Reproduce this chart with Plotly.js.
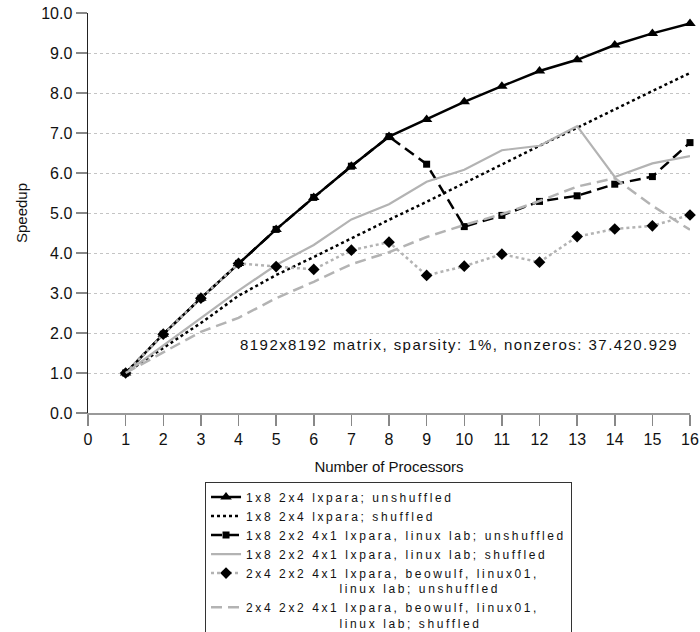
<!DOCTYPE html>
<html>
<head>
<meta charset="utf-8">
<script src="https://cdn.plot.ly/plotly-3.0.1.min.js"></script>
<style>
  html, body { margin: 0; padding: 0; background: #fff; overflow: hidden; width: 700px; height: 632px; }
  #chart { width: 700px; height: 680px; }
  .legendtext { letter-spacing: 2.6px; }
  .annotation-text { letter-spacing: 1.45px; }
</style>
</head>
<body>
<div id="chart"></div>
<script>
// Number of processors
const processors = [1, 2, 3, 4, 5, 6, 7, 8, 9, 10, 11, 12, 13, 14, 15, 16];

// Speedup series
const lxparaUnshuffled   = [1.00, 1.97, 2.87, 3.74, 4.59, 5.39, 6.17, 6.91, 7.34, 7.78, 8.17, 8.55, 8.83, 9.20, 9.49, 9.74];
const lxparaShuffled     = [1.00, 1.62, 2.25, 2.93, 3.45, 3.90, 4.37, 4.83, 5.28, 5.75, 6.22, 6.68, 7.13, 7.60, 8.05, 8.50];
const linuxLabUnshuffled = [1.00, 1.97, 2.87, 3.74, 4.59, 5.39, 6.17, 6.91, 6.22, 4.66, 4.94, 5.29, 5.43, 5.72, 5.91, 6.76];
const linuxLabShuffled   = [1.00, 1.68, 2.37, 3.06, 3.70, 4.20, 4.84, 5.22, 5.78, 6.08, 6.57, 6.68, 7.17, 5.90, 6.24, 6.42];
const beowulfUnshuffled  = [1.00, 1.97, 2.87, 3.74, 3.66, 3.59, 4.07, 4.27, 3.44, 3.67, 3.97, 3.77, 4.41, 4.60, 4.68, 4.95];
const beowulfShuffled    = [1.00, 1.52, 2.03, 2.38, 2.87, 3.28, 3.72, 4.02, 4.40, 4.70, 4.97, 5.30, 5.66, 5.87, 5.18, 4.58];

// Legend labels
const indent = "\u2003\u2003\u2003\u2003\u2003\u2003\u00a0";
const seriesNames = [
  "1x8 2x4 lxpara; unshuffled",
  "1x8 2x4 lxpara; shuffled",
  "1x8 2x2 4x1 lxpara, linux lab; unshuffled",
  "1x8 2x2 4x1 lxpara, linux lab; shuffled",
  "2x4 2x2 4x1 lxpara, beowulf, linux01,<br>" + indent + "linux lab; unshuffled",
  "2x4 2x2 4x1 lxpara, beowulf, linux01,<br>" + indent + "linux lab; shuffled"
];

// Axis ticks
const xTicks = [0,1,2,3,4,5,6,7,8,9,10,11,12,13,14,15,16];
const yTicks = [0,1,2,3,4,5,6,7,8,9,10];
const yTickLabels = ["0.0","1.0","2.0","3.0","4.0","5.0","6.0","7.0","8.0","9.0","10.0"];

const noteText = "8192x8192 matrix, sparsity: 1%, nonzeros: 37.420.929";

const GRAY = "#b3b3b3";
const FONT = "Liberation Sans, Arial, Helvetica, sans-serif";

const traces = [
  { x: processors, y: lxparaUnshuffled, name: seriesNames[0], mode: "lines+markers",
    line: { color: "#000", width: 2.5 },
    marker: { symbol: "triangle-up", size: 10, color: "#000" } },
  { x: processors, y: lxparaShuffled, name: seriesNames[1], mode: "lines",
    line: { color: "#000", width: 2.5, dash: "3px,3px" } },
  { x: processors, y: linuxLabUnshuffled, name: seriesNames[2], mode: "lines+markers",
    line: { color: "#000", width: 2.5, dash: "11px,6px" },
    marker: { symbol: "square", size: 7, color: "#000" } },
  { x: processors, y: linuxLabShuffled, name: seriesNames[3], mode: "lines",
    line: { color: GRAY, width: 2.2 } },
  { x: processors, y: beowulfUnshuffled, name: seriesNames[4], mode: "lines+markers",
    line: { color: GRAY, width: 2.5, dash: "3px,3px" },
    marker: { symbol: "diamond", size: 9, color: "#000" } },
  { x: processors, y: beowulfShuffled, name: seriesNames[5], mode: "lines",
    line: { color: GRAY, width: 2.5, dash: "11px,6px" } }
].map(t => Object.assign(t, { type: "scatter", cliponaxis: false }));

const layout = {
  width: 700, height: 680, autosize: false,
  margin: { l: 88, r: 10, t: 13, b: 267, pad: 0 },
  paper_bgcolor: "#fff", plot_bgcolor: "#fff",
  font: { family: FONT, size: 15, color: "#111" },
  showlegend: true,
  xaxis: {
    range: [0, 16], tickvals: xTicks, ticktext: xTicks.map(String),
    showgrid: false, zeroline: false,
    showline: true, linecolor: "#999", linewidth: 2,
    ticks: "outside", ticklen: 11, tickwidth: 1.5, tickcolor: "#888",
    tickfont: { family: FONT, size: 16, color: "#111" },
    title: { text: "Number of Processors", font: { family: FONT, size: 15, color: "#111" }, standoff: 14 },
    automargin: false, fixedrange: true
  },
  yaxis: {
    range: [0, 10], tickvals: yTicks, ticktext: yTickLabels,
    showgrid: true, gridcolor: "#c4c4c4", gridwidth: 1, griddash: "dot",
    zeroline: false,
    showline: true, linecolor: "#222", linewidth: 1.5,
    ticks: "outside", ticklen: 11, tickwidth: 1.5, tickcolor: "#888",
    tickfont: { family: FONT, size: 16, color: "#111" },
    title: { text: "Speedup", font: { family: FONT, size: 15, color: "#111" }, standoff: 10 },
    automargin: false, fixedrange: true
  },
  legend: {
    x: 0.1944, y: -0.172, xanchor: "left", yanchor: "top",
    bgcolor: "#fff", bordercolor: "#333", borderwidth: 1,
    font: { family: FONT, size: 12, color: "#111" },
    itemwidth: 30, valign: "top", traceorder: "normal"
  },
  annotations: [{
    xref: "x", yref: "y", x: 9.86, y: 1.72, xanchor: "center", yanchor: "middle",
    text: noteText, showarrow: false,
    font: { family: FONT, size: 15, color: "#111" }
  }]
};

Plotly.newPlot("chart", traces, layout, { displayModeBar: false, staticPlot: true });
</script>
</body>
</html>
